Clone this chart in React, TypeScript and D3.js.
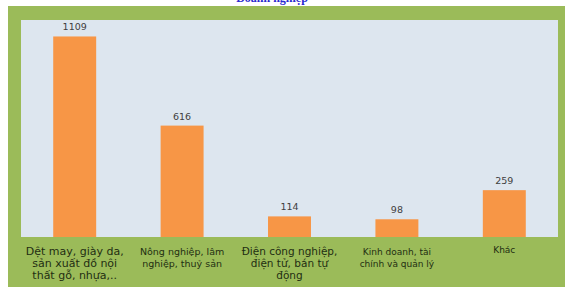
import React, { useEffect, useRef } from 'react'
import * as d3 from 'd3'

const categories = [
  ['Dệt may, giày da,', 'sản xuất đồ nội', 'thất gỗ, nhựa,..'],
  ['Nông nghiệp, lâm', 'nghiệp, thuỷ sản'],
  ['Điện công nghiệp,', 'điện tử, bán tự', 'động'],
  ['Kinh doanh, tài', 'chính và quản lý'],
  ['Khác'],
]
const values = [1109, 616, 114, 98, 259]
const labelSizes = [11, 9.5, 10.5, 9, 9]

const App = () => {
  const ref = useRef<SVGSVGElement | null>(null)

  useEffect(() => {
    const svg = d3.select(ref.current)
    svg.selectAll('*').remove()

    const W = 565
    const H = 287
    const plot = { left: 21, right: 558, top: 20, bottom: 237 }

    // white page, only the bottom of the title shows above the frame
    svg.append('rect').attr('width', W).attr('height', H).attr('fill', '#fff')
    svg.append('text')
      .attr('x', 272).attr('y', 2)
      .attr('text-anchor', 'middle')
      .attr('font-family', 'Liberation Serif, serif')
      .attr('font-size', 12)
      .attr('font-weight', 'bold')
      .attr('fill', '#2a2ad0')
      .text('Doanh nghiệp')

    // green frame
    svg.append('rect')
      .attr('x', 8).attr('y', 6)
      .attr('width', W - 8).attr('height', H - 6)
      .attr('fill', '#9bbb59')

    svg.append('rect')
      .attr('x', plot.left).attr('y', plot.top)
      .attr('width', plot.right - plot.left)
      .attr('height', plot.bottom - plot.top)
      .attr('fill', '#dde6ef')

    const idx = values.map((_, i) => i)
    const x = d3.scaleBand<number>()
      .domain(idx)
      .range([plot.left, plot.right])
      .paddingInner(0.6)
      .paddingOuter(0.3)

    const y = d3.scaleLinear()
      .domain([0, 1200])
      .range([plot.bottom, plot.top])

    svg.append('g')
      .selectAll('rect')
      .data(values)
      .enter().append('rect')
      .attr('x', (d, i) => x(i)!)
      .attr('y', d => y(d))
      .attr('width', x.bandwidth())
      .attr('height', d => y(0) - y(d))
      .attr('fill', '#f79646')

    svg.append('g')
      .attr('font-family', 'DejaVu Sans, sans-serif')
      .attr('font-size', 9.5)
      .attr('fill', '#404040')
      .attr('text-anchor', 'middle')
      .selectAll('text')
      .data(values)
      .enter().append('text')
      .attr('x', (d, i) => x(i)! + x.bandwidth() / 2)
      .attr('y', d => y(d) - 6)
      .text(d => d)

    const labels = svg.append('g')
      .attr('font-family', 'DejaVu Sans, sans-serif')
      .attr('fill', '#1f2e12')
      .attr('text-anchor', 'middle')
      .selectAll('text')
      .data(categories)
      .enter().append('text')
      .attr('font-size', (d, i) => labelSizes[i])
      .attr('x', (d, i) => x(i)! + x.bandwidth() / 2)
      .attr('y', (d, i) => plot.bottom + (i === 4 ? 16 : 18))

    labels.selectAll('tspan')
      .data((d, i) => d.map(t => ({ t, i })))
      .enter().append('tspan')
      .attr('x', function () { return (this.parentNode as SVGTextElement).getAttribute('x') })
      .attr('dy', (d, j) => (j === 0 ? 0 : 12))
      .text(d => d.t)
  }, [])

  return (
    <div style={{ position: 'absolute', left: 0, top: 0 }}>
      <svg ref={ref} width={565} height={287} style={{ display: 'block' }} />
    </div>
  )
}

export default App
